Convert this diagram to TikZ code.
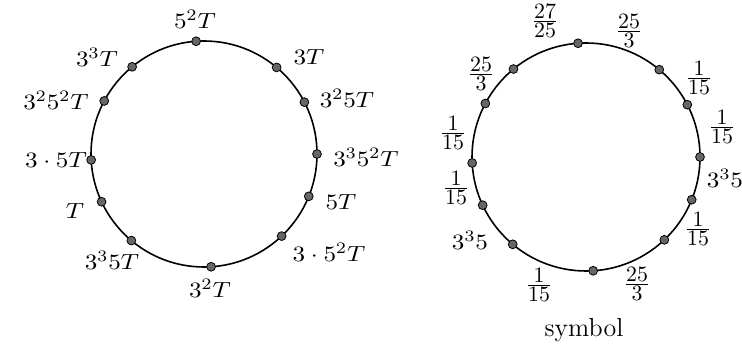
\documentclass[tikz,border=0pt]{standalone}
\usepackage{amsmath,amssymb}
\newcommand{\ffrac}[2]{\frac{\textstyle #1}{\textstyle #2}}
\tikzset{
  pt/.style={circle,draw=black,fill=black!60,inner sep=0pt,minimum size=4.4pt,line width=0.4pt},
  ring/.style={line width=0.8pt},
  lab/.style={font=\fontsize{11}{13}\selectfont,inner sep=1pt,xscale=1.15,transform shape},
  frac/.style={font=\fontsize{11}{13}\selectfont,inner sep=1pt},
}

\begin{document}
\begin{tikzpicture}[x=0.5pt,y=0.5pt]
  \useasboundingbox (0,0) rectangle (742,347);
  % left circle
  \coordinate (lc) at (204,193);
  \draw[ring] (lc) circle (113);
  \path (lc) ++(94:113)    node[pt] (l1) {};
  \path (lc) ++(129.5:113) node[pt] (l2) {};
  \path (lc) ++(152:113)   node[pt] (l3) {};
  \path (lc) ++(183:113)   node[pt] (l4) {};
  \path (lc) ++(205:113)   node[pt] (l5) {};
  \path (lc) ++(230:113)   node[pt] (l6) {};
  \path (lc) ++(273.6:113) node[pt] (l7) {};
  \path (lc) ++(313.4:113) node[pt] (l8) {};
  \path (lc) ++(338:113)   node[pt] (l9) {};
  \path (lc) ++(0:113)     node[pt] (l10) {};
  \path (lc) ++(27.3:113)  node[pt] (l11) {};
  \path (lc) ++(50:113)    node[pt] (l12) {};
  \node[lab] (ll1) at (195,328) {$5^2T$};
  \node[lab] (ll2) at (97,290) {$3^3T$};
  \node[lab] (ll3) at (56,247) {$3^25^2T$};
  \node[lab] (ll4) at (56,187) {$3\cdot5T$};
  \node[lab] (ll5) at (75,136) {$T$};
  \node[lab] (ll6) at (112,87) {$3^35T$};
  \node[lab] (ll7) at (210,59) {$3^2T$};
  \node[lab] (ll8) at (329,95) {$3\cdot5^2T$};
  \node[lab] (ll9) at (341,145) {$5T$};
  \node[lab] (ll10) at (366,190) {$3^35^2T$};
  \node[lab] (ll11) at (347,249) {$3^25T$};
  \node[lab] (ll12) at (309,290) {$3T$};

  % right circle
  \coordinate (rc) at (586,190);
  \draw[ring] (rc) circle (114);
  \path (rc) ++(94:114)    node[pt] (r1) {};
  \path (rc) ++(129.5:114) node[pt] (r2) {};
  \path (rc) ++(152:114)   node[pt] (r3) {};
  \path (rc) ++(183:114)   node[pt] (r4) {};
  \path (rc) ++(205:114)   node[pt] (r5) {};
  \path (rc) ++(230:114)   node[pt] (r6) {};
  \path (rc) ++(273.6:114) node[pt] (r7) {};
  \path (rc) ++(313.4:114) node[pt] (r8) {};
  \path (rc) ++(338:114)   node[pt] (r9) {};
  \path (rc) ++(0:114)     node[pt] (r10) {};
  \path (rc) ++(27.3:114)  node[pt] (r11) {};
  \path (rc) ++(50:114)    node[pt] (r12) {};
  \node[frac] (rl1) at (545,326) {$\ffrac{27}{25}$};
  \node[frac] (rl2) at (629,316) {$\ffrac{25}{3}$};
  \node[frac] (rl3) at (699,269) {$\ffrac{1}{15}$};
  \node[frac] (rl4) at (722,220) {$\ffrac{1}{15}$};
  \node[lab] (rl5) at (725,169) {$3^35$};
  \node[frac] (rl6) at (698,118) {$\ffrac{1}{15}$};
  \node[frac] (rl7) at (637,63) {$\ffrac{25}{3}$};
  \node[frac] (rl8) at (539,62) {$\ffrac{1}{15}$};
  \node[lab] (rl9) at (470,107) {$3^35$};
  \node[frac] (rl10) at (456,159) {$\ffrac{1}{15}$};
  \node[frac] (rl11) at (453,214) {$\ffrac{1}{15}$};
  \node[frac] (rl12) at (481,273) {$\ffrac{25}{3}$};
  \node[font=\fontsize{13}{15}\selectfont] (cap) at (584,17) {symbol};
\end{tikzpicture}
\end{document}
